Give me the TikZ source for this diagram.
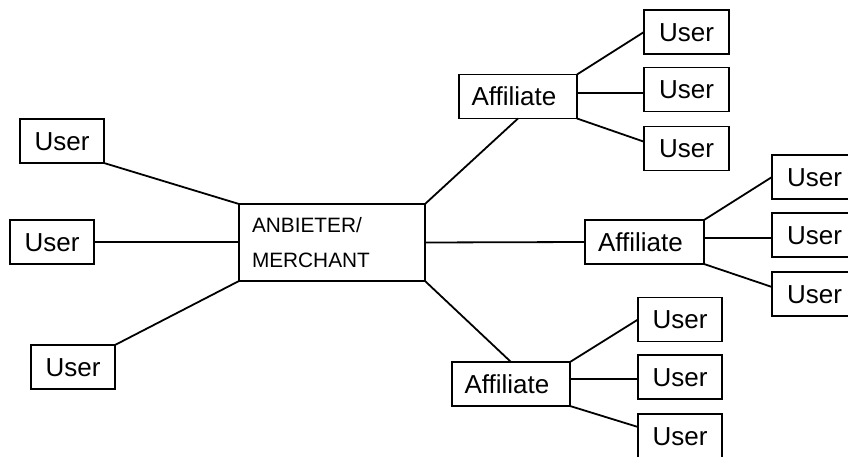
\documentclass[tikz,border=0pt]{standalone}
\usepackage{fontspec}
\setmainfont{Liberation Sans}
\begin{document}
\begin{tikzpicture}[x=1pt,y=-1pt,
  box/.style={draw,line width=1.8pt,rectangle,inner sep=0pt,outer sep=0pt},
  userbox/.style={box,minimum width=84pt,minimum height=44pt,
    font=\fontsize{26}{30}\selectfont,text height=18.6pt,text depth=0pt},
  affbox/.style={box,minimum width=118pt,minimum height=44pt,
    font=\fontsize{26}{30}\selectfont,text height=18.6pt,text depth=0pt,
    inner xsep=12.5pt,text width=93pt,align=left},
  mbox/.style={box,minimum width=186pt,minimum height=77pt,
    font=\fontsize{20.8}{35}\selectfont,inner xsep=13pt,text width=160pt,align=left},
  link/.style={line width=1.8pt}]
\useasboundingbox (0,0) rectangle (848,457);
\clip (0,0) rectangle (848,457);
% center
\node[mbox] (M) at (332,242.5) {ANBIETER/\\MERCHANT};
% left users
\node[userbox] (uL1) at (62,141) {User};
\node[userbox] (uL2) at (52,242) {User};
\node[userbox] (uL3) at (73,367) {User};
% affiliates
\node[affbox] (A1) at (518,96.5) {Affiliate};
\node[affbox,minimum width=119pt] (A2) at (644.5,242) {Affiliate};
\node[affbox] (A3) at (511,384) {Affiliate};
% users of affiliates
\node[userbox,minimum width=85pt] (u1a) at (686.5,32) {User};
\node[userbox,minimum width=85pt] (u1b) at (686.5,89.5) {User};
\node[userbox,minimum width=85pt] (u1c) at (686.5,148.5) {User};
\node[userbox,minimum width=85pt] (u2a) at (814.5,177) {User};
\node[userbox,minimum width=85pt] (u2b) at (814.5,235) {User};
\node[userbox,minimum width=85pt] (u2c) at (814.5,294) {User};
\node[userbox] (u3a) at (680,319.5) {User};
\node[userbox] (u3b) at (680,377) {User};
\node[userbox] (u3c) at (680,436) {User};
% connectors
\draw[link] (uL1.south east) -- (M.north west);
\draw[link] (uL2.east) -- (uL2.east -| M.west);
\draw[link] (uL3.north east) -- (M.south west);
\draw[link] (M.north east) -- (A1.south);
\draw[link] (M.east) -- (A2.west);
\draw[link] (M.south east) -- (A3.north);
\draw[link] (A1.north east) -- (u1a.west);
\draw[link] ([yshift=3.4pt]A1.east) -- ([yshift=3.4pt]A1.east -| u1b.west);
\draw[link] (A1.south east) -- ([yshift=6.8pt]u1c.west);
\draw[link] (A2.north east) -- (u2a.west);
\draw[link] ([yshift=4pt]A2.east) -- ([yshift=4pt]A2.east -| u2b.west);
\draw[link] (A2.south east) -- ([yshift=7pt]u2c.west);
\draw[link] (A3.north east) -- (u3a.west);
\draw[link] ([yshift=5pt]A3.east) -- ([yshift=5pt]A3.east -| u3b.west);
\draw[link] (A3.south east) -- ([yshift=9pt]u3c.west);
\end{tikzpicture}
\end{document}
